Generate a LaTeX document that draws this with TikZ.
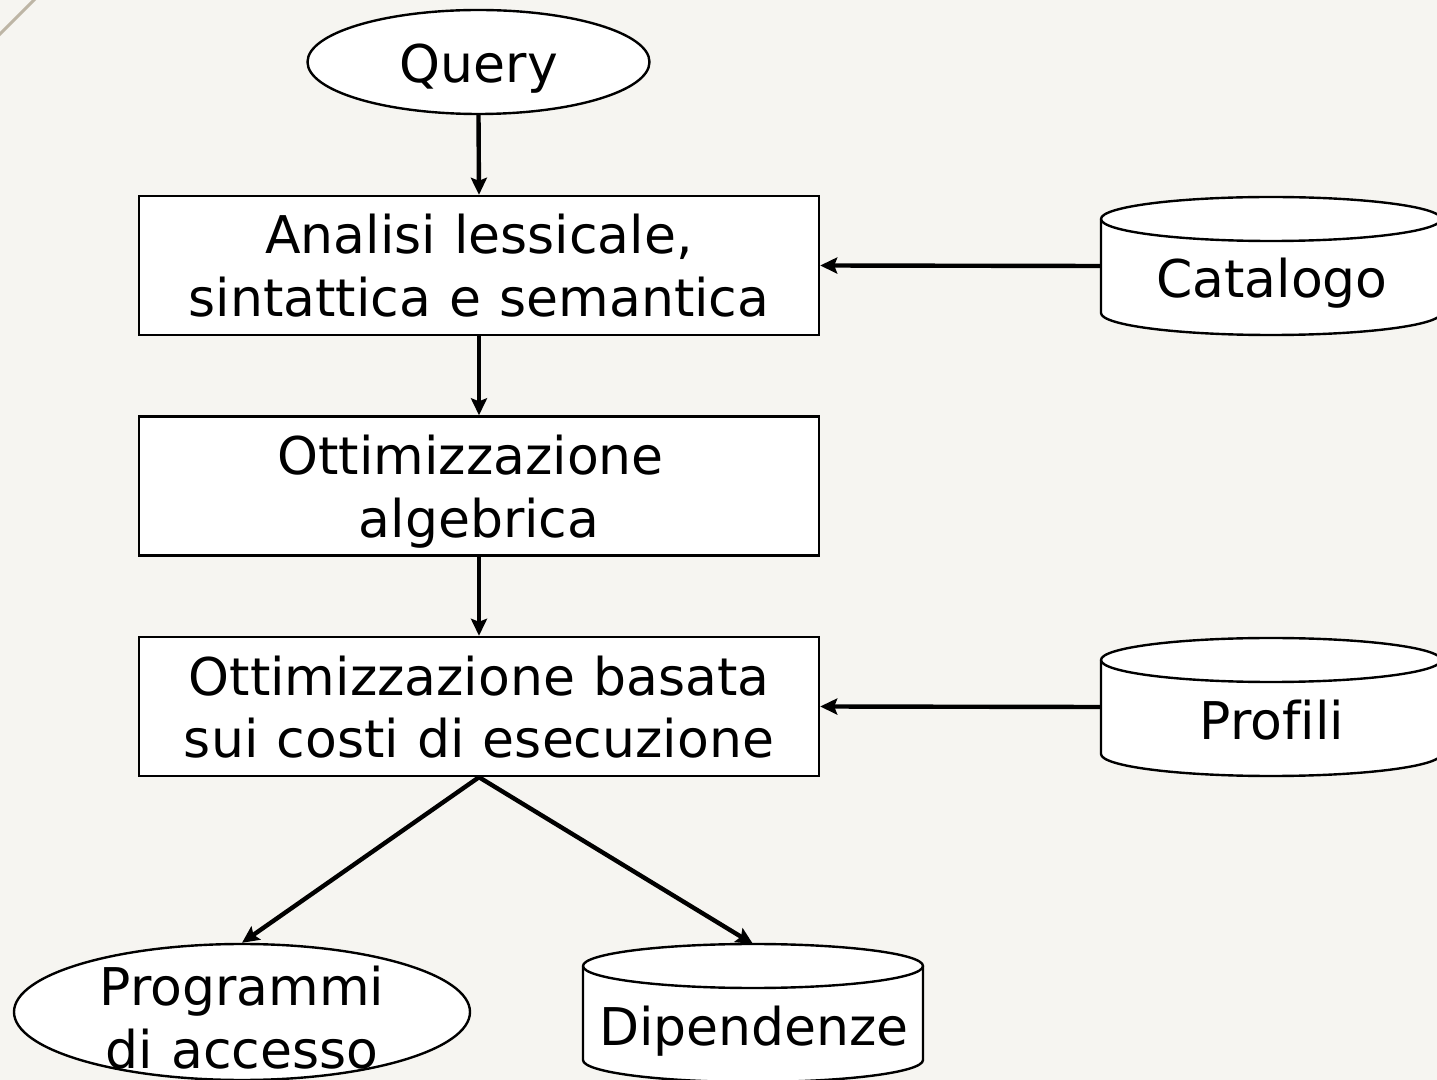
\documentclass[tikz,border=0pt]{standalone}
\usepackage{fontspec}
\setmainfont[Ligatures=NoCommon]{DejaVu Sans}
\usetikzlibrary{shapes.geometric,arrows.meta}
\definecolor{paper}{HTML}{F6F5F1}
\definecolor{rulecol}{HTML}{BDB5A5}
\newcommand\diafont{\fontsize{26pt}{31.5pt}\selectfont\spaceskip=0.35em\relax}
% database drum drawn around a named (invisible) rectangle node
\newcommand\dbdrum[1]{%
  \filldraw[shapeline] ([yshift=-11pt]#1.north west) -- ([yshift=11pt]#1.south west)
     arc[start angle=180, end angle=360, x radius=85pt, y radius=11pt]
     -- ([yshift=-11pt]#1.north east)
     arc[start angle=0, end angle=180, x radius=85pt, y radius=11pt] -- cycle;
  \draw[shapeline,fill=none] ([yshift=-11pt]#1.north west)
     arc[start angle=180, end angle=360, x radius=85pt, y radius=11pt];}

\begin{document}
\begin{tikzpicture}[x=0.5pt,y=-0.5pt,
  shapeline/.style={draw=black, line width=1.2pt, fill=white},
  stepbox/.style={shapeline, rectangle, minimum width=340pt, minimum height=69.5pt, inner sep=0pt},
  oval/.style={shapeline, ellipse, inner sep=0pt},
  dbslot/.style={rectangle, minimum width=170pt, minimum height=69pt, inner sep=0pt, outer sep=0pt},
  lbl/.style={font=\diafont, align=center, inner sep=0pt},
  flow/.style={line width=2.2pt, -{Stealth[length=8.5pt,width=8pt,inset=1.5pt]}},
]
\useasboundingbox (0,0) rectangle (1437,1080);
\clip (0,0) rectangle (1437,1080);
\fill[paper] (0,0) rectangle (1437,1080);
\draw[rulecol, line width=1.5pt] (-10,44) -- (44,-10);

% process steps
\node[oval, minimum width=171pt, minimum height=52pt] (q) at (478.5,62) {};
\node[lbl] (qt) at (479,70.4) {\strut Query};

\node[stepbox] (b1) at (479,265.5) {};
\node[lbl] (b1t) at (479,272.9) {\strut Analisi lessicale,\\sintattica e semantica\strut};

\node[stepbox] (b2) at (479,486) {};
\node[lbl] (b2t) at (479,493.9) {\strut Ottimizzazione\kern.32em\\algebrica\strut};

\node[stepbox] (b3) at (479,706.5) {};
\node[lbl] (b3t) at (479,713.9) {\strut Ottimizzazione basata\\sui costi di esecuzione\strut};

% data stores
\node[dbslot] (cat) at (1271,266) {};
\dbdrum{cat}
\node[lbl] (catt) at (1272,285.4) {\strut Catalogo};

\node[dbslot] (prof) at (1271,707) {};
\dbdrum{prof}
\node[lbl] (proft) at (1272,726.9) {\strut Profili};

\node[dbslot] (dip) at (753,1013) {};
\dbdrum{dip}
\node[lbl] (dipt) at (754,1032.4) {\strut Dipendenze};

\node[oval, minimum width=228pt, minimum height=68pt] (prog) at (242,1012) {};
\node[lbl] (progt) at (242,1023.9) {\strut Programmi\\di accesso\strut};

% connectors
\draw[flow] (q.south) -- (b1.north);
\draw[flow] (b1.south) -- (b2.north);
\draw[flow] (b2.south) -- (b3.north);
\draw[flow] (cat.west) -- (b1.east);
\draw[flow] (prof.west) -- (b3.east);
\draw[flow] (b3.south) -- (prog.north);
\draw[flow] (b3.south) -- (dip.north);
\end{tikzpicture}
\end{document}
